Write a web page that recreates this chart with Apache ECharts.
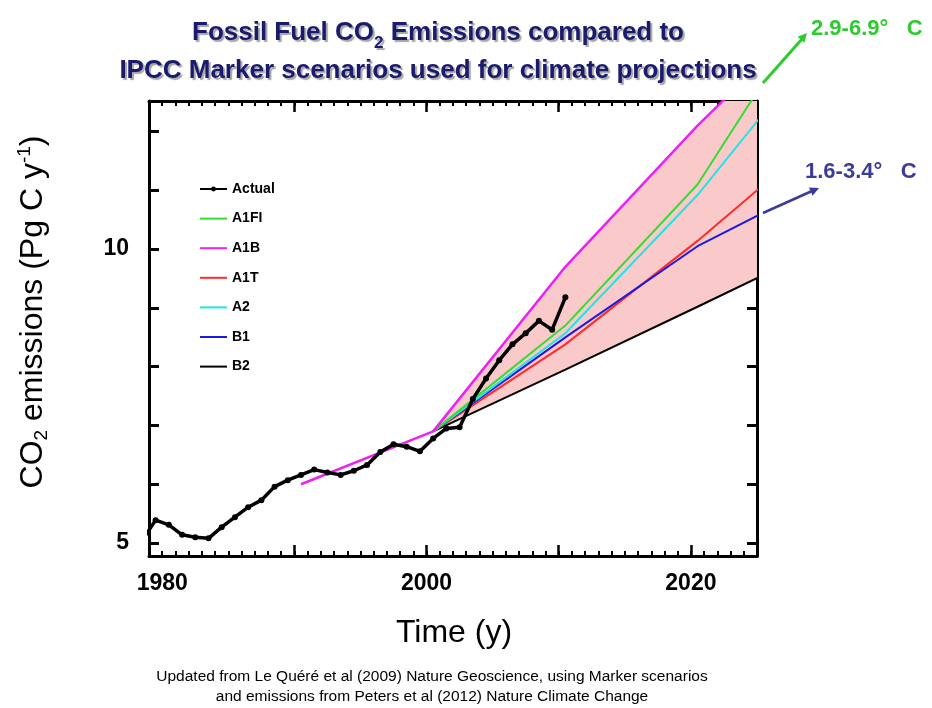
<!DOCTYPE html>
<html>
<head>
<meta charset="utf-8">
<script src="https://cdn.jsdelivr.net/npm/echarts@6/dist/echarts.min.js"></script>
<style>
html,body{margin:0;padding:0;background:#fff;}
#chart{width:932px;height:708px;}
</style>
</head>
<body>
<div id="chart"></div>
<script>
// ---- data ----
const actualYears = [1978,1979,1980,1981,1982,1983,1984,1985,1986,1987,1988,1989,1990,1991,1992,1993,1994,1995,1996,1997,1998,1999,2000,2001,2002,2003,2004,2005,2006,2007,2008,2009,2010];
const actualValues = [5.05,5.39,5.31,5.14,5.10,5.08,5.27,5.44,5.61,5.73,5.96,6.07,6.16,6.25,6.20,6.16,6.23,6.33,6.55,6.68,6.64,6.56,6.78,6.95,6.97,7.45,7.80,8.11,8.38,8.57,8.78,8.63,9.18];
const scenarioYears = [1990, 2000, 2010, 2020, 2030];
const A1FI = [null, 6.9, 8.70, 11.10, 14.60];
const A1B  = [6.0, 6.9, 9.70, 12.10, 14.30];
const A1T  = [null, 6.9, 8.38, 10.14, 12.05];
const A2   = [null, 6.9, 8.57, 10.92, 13.70];
const B1   = [null, 6.9, 8.50, 10.05, 11.20];
const B2   = [null, 6.9, 7.95, 9.02, 10.10];
const majorYearTicks = [1990, 2000, 2010, 2020];
const yearLabels = [1980, 2000, 2020];
const valueTicks = [5, 6, 7, 8, 9, 10, 11, 12];
const valueLabels = [5, 10];
const MIDYEAR = 0.5; // annual values plotted at mid-year

const minorYearTicks = [];
for (let y = 1979; y <= 2025; y++) minorYearTicks.push(y);

const pairs = (xs, vs) => xs.map((x, i) => [x + MIDYEAR, vs[i]]).filter(p => p[1] !== null);

// band between lowest (B2) and highest (A1B) scenario, 2000 onwards
const bandIdx = [1, 2, 3, 4];

const chart = echarts.init(document.getElementById('chart'), null, {renderer: 'canvas'});

const FONT = 'Liberation Sans, Arial, sans-serif';
const xRange = {min: 1979, max: 2025};
const yRange = {min: 4.78, max: 12.52};

function xAx(pos, ticks, len, showLine, labels) {
  return {
    type: 'value', position: pos, ...xRange,
    axisLine: {show: showLine, onZero: false, lineStyle: {color: '#000', width: 3}},
    axisTick: {show: true, inside: true, length: len, customValues: ticks, lineStyle: {color: '#000', width: len > 6 ? 2.5 : 2}},
    axisLabel: labels ? {show: true, customValues: labels, formatter: v => String(v), fontFamily: FONT, fontWeight: 'bold', fontSize: 23, color: '#000', margin: 16} : {show: false},
    splitLine: {show: false}
  };
}
function yAx(pos, showLabels) {
  return {
    type: 'value', position: pos, ...yRange,
    axisLine: {show: true, onZero: false, lineStyle: {color: '#000', width: 3}},
    axisTick: {show: true, inside: true, length: 10, customValues: valueTicks, lineStyle: {color: '#000', width: 3}},
    axisLabel: showLabels ? {show: true, customValues: valueLabels, formatter: v => String(v), fontFamily: FONT, fontWeight: 'bold', fontSize: 23, color: '#000', margin: 20} : {show: false},
    splitLine: {show: false}
  };
}

function scen(name, data, color, width) {
  return {
    name: name, type: 'line', data: pairs(scenarioYears, data), xAxisIndex: 0, yAxisIndex: 0,
    symbol: 'none', clip: true, lineStyle: {color: color, width: width}, itemStyle: {color: color},
    z: 3, animation: false
  };
}

const hideSym = {opacity: 0};

const option = {
  backgroundColor: '#fff',
  animation: false,
  title: {
    text: 'Fossil Fuel CO{sub|2} Emissions compared to\nIPCC Marker scenarios used for climate projections',
    left: 433, top: 9, textAlign: 'center',
    textStyle: {
      fontFamily: FONT, fontSize: 26, fontWeight: 'bold', color: '#1b1b6e', lineHeight: 38,
      textShadowColor: 'rgba(0,0,0,0.35)', textShadowOffsetX: 2, textShadowOffsetY: 2, textShadowBlur: 1,
      rich: {
        sub: {fontFamily: FONT, fontSize: 17, fontWeight: 'bold', color: '#1b1b6e', verticalAlign: 'bottom', lineHeight: 28,
              textShadowColor: 'rgba(0,0,0,0.35)', textShadowOffsetX: 2, textShadowOffsetY: 2, textShadowBlur: 1}
      }
    }
  },
  grid: {left: 149, right: 175, top: 101, bottom: 152, containLabel: false},
  legend: {
    data: [
      {name: 'Actual'},
      {name: 'A1FI', itemStyle: hideSym},
      {name: 'A1B', itemStyle: hideSym},
      {name: 'A1T', itemStyle: hideSym},
      {name: 'A2', itemStyle: hideSym},
      {name: 'B1', itemStyle: hideSym},
      {name: 'B2', itemStyle: hideSym}
    ],
    orient: 'vertical', left: 199, top: 182, padding: 0, itemWidth: 27, itemHeight: 6, itemGap: 15.6,
    textStyle: {fontFamily: FONT, fontSize: 14, fontWeight: 'bold', color: '#000'},
    selectedMode: false
  },
  xAxis: [
    xAx('bottom', majorYearTicks, 11, true, yearLabels),
    xAx('bottom', minorYearTicks, 5, false, null),
    xAx('top', majorYearTicks, 11, true, null),
    xAx('top', minorYearTicks, 5, false, null)
  ],
  yAxis: [yAx('left', true), yAx('right', false)],
  series: [
    {name: 'band', type: 'custom', coordinateSystem: 'cartesian2d', xAxisIndex: 0, yAxisIndex: 0,
     data: [[scenarioYears[1] + MIDYEAR, A1B[1]]], silent: true, z: 1,
     renderItem: function (params, api) {
       const upper = bandIdx.map(i => api.coord([scenarioYears[i] + MIDYEAR, A1B[i]]));
       const lower = bandIdx.map(i => api.coord([scenarioYears[i] + MIDYEAR, B2[i]])).reverse();
       const cs = params.coordSys;
       return {
         type: 'polygon',
         shape: {points: upper.concat(lower)},
         style: {fill: '#fac9c9'},
         clipPath: {type: 'rect', shape: {x: cs.x, y: cs.y, width: cs.width, height: cs.height}}
       };
     }},
    scen('B2', B2, '#000000', 2),
    scen('A1T', A1T, '#ff2a2a', 2),
    scen('B1', B1, '#1a1ae6', 2),
    scen('A2', A2, '#22e4e4', 2),
    scen('A1FI', A1FI, '#33dd33', 2),
    scen('A1B', A1B, '#ee22ee', 2.5),
    {name: 'Actual', type: 'line', data: pairs(actualYears, actualValues), xAxisIndex: 0, yAxisIndex: 0,
     symbol: 'circle', symbolSize: 6, showSymbol: true, clip: true,
     lineStyle: {color: '#000', width: 3.5}, itemStyle: {color: '#000'}, z: 4}
  ],
  graphic: [
    {type: 'text', x: 33, y: 312, rotation: Math.PI / 2,
     style: {text: 'CO{sub|2} emissions (Pg C y{sup|-1})', fontFamily: FONT, fontSize: 32, fill: '#000',
       align: 'center', verticalAlign: 'middle',
       rich: {sub: {fontFamily: FONT, fontSize: 19, fill: '#000', verticalAlign: 'bottom', lineHeight: 36},
              sup: {fontFamily: FONT, fontSize: 19, fill: '#000', verticalAlign: 'top', lineHeight: 36}}}},
    {type: 'text', x: 454, y: 633,
     style: {text: 'Time (y)', fontFamily: FONT, fontSize: 32, fill: '#000', align: 'center', verticalAlign: 'middle'}},
    {type: 'text', x: 432, y: 687,
     style: {text: 'Updated from Le Quéré et al (2009) Nature Geoscience, using Marker scenarios\nand emissions from Peters et al (2012) Nature Climate Change',
       fontFamily: FONT, fontSize: 15.5, fill: '#000', align: 'center', verticalAlign: 'middle', lineHeight: 20}},
    // green annotation
    {type: 'line', shape: {x1: 763, y1: 83, x2: 802, y2: 39}, style: {stroke: '#2ccc2c', lineWidth: 3}},
    {type: 'polygon', shape: {points: [[807, 33], [804.4, 42.7], [797.6, 36.7]]}, style: {fill: '#2ccc2c'}},
    {type: 'text', x: 811, y: 29,
     style: {text: '2.9-6.9°   C', fontFamily: FONT, fontSize: 22, fontWeight: 'bold', fill: '#2ccc2c', align: 'left', verticalAlign: 'middle'}},
    // blue annotation
    {type: 'line', shape: {x1: 763, y1: 213, x2: 812, y2: 191}, style: {stroke: '#3b3b9b', lineWidth: 2.5}},
    {type: 'polygon', shape: {points: [[819, 188], [812.6, 195.8], [809, 187.6]]}, style: {fill: '#3b3b9b'}},
    {type: 'text', x: 805, y: 172,
     style: {text: '1.6-3.4°   C', fontFamily: FONT, fontSize: 22, fontWeight: 'bold', fill: '#3b3b9b', align: 'left', verticalAlign: 'middle'}}
  ]
};
chart.setOption(option);
</script>
</body>
</html>
